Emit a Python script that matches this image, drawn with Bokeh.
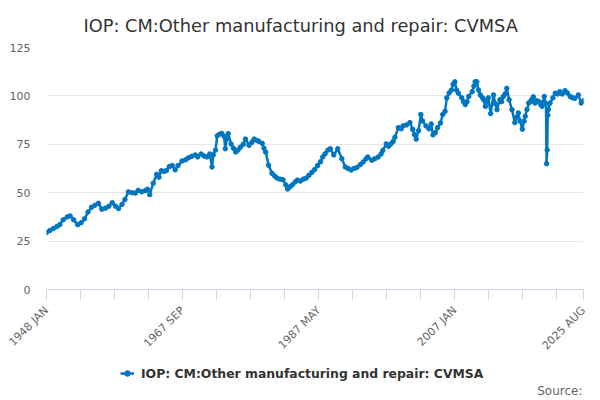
from bokeh.plotting import figure
from bokeh.layouts import column
from bokeh.models import (FixedTicker, Legend, LegendItem, Range1d, Label,
                          ColumnDataSource)
from bokeh.embed import file_html
from bokeh.resources import INLINE
import math

TITLE = "IOP: CM:Other manufacturing and repair: CVMSA"
SERIES = "IOP: CM:Other manufacturing and repair: CVMSA"
SOURCE = "Source:"

dates = [
    "1948-01", "1948-07", "1949-01", "1949-07", "1949-12", "1950-06", "1951-01", "1951-06",
    "1951-12", "1952-07", "1953-01", "1953-07", "1954-01", "1954-07", "1955-01", "1955-07",
    "1956-01", "1956-07", "1957-01", "1957-07", "1958-01", "1958-06", "1958-12", "1959-05",
    "1959-11", "1960-05", "1960-11", "1961-04", "1961-10", "1962-04", "1962-08", "1962-12",
    "1963-06", "1963-12", "1964-04", "1964-08", "1965-01", "1965-05", "1965-10", "1966-03",
    "1966-08", "1967-01", "1967-08", "1968-02", "1968-07", "1969-01", "1969-07", "1969-11",
    "1970-05", "1970-10", "1971-03", "1971-08", "1971-12", "1972-02", "1972-06", "1972-09",
    "1973-01", "1973-05", "1973-09", "1973-11", "1974-02", "1974-04", "1974-09", "1975-01",
    "1975-05", "1975-09", "1976-01", "1976-06", "1976-10", "1977-04", "1977-09", "1978-01",
    "1978-06", "1978-09", "1979-03", "1979-06", "1979-09", "1980-02", "1980-08", "1981-01",
    "1981-05", "1981-10", "1982-03", "1982-08", "1982-11", "1983-03", "1983-07", "1983-12",
    "1984-04", "1984-09", "1985-02", "1985-07", "1985-12", "1986-05", "1986-10", "1987-03",
    "1987-08", "1987-12", "1988-04", "1988-09", "1989-01", "1989-07", "1990-02", "1990-09",
    "1991-03", "1991-08", "1992-01", "1992-06", "1992-11", "1993-05", "1993-10", "1994-03",
    "1994-06", "1995-01", "1995-06", "1995-12", "1996-05", "1996-08", "1997-02", "1997-06",
    "1997-10", "1998-02", "1998-05", "1998-11", "1999-04", "1999-07", "2000-01", "2000-07",
    "2000-12", "2001-03", "2001-06", "2001-10", "2002-02", "2002-05", "2002-11", "2003-04",
    "2003-08", "2003-11", "2004-03", "2004-07", "2004-12", "2005-04", "2005-08", "2005-11",
    "2006-03", "2006-07", "2006-10", "2007-01", "2007-04", "2007-07", "2008-01", "2008-04",
    "2008-07", "2008-10", "2009-01", "2009-07", "2009-10", "2009-12", "2010-03", "2010-06",
    "2010-09", "2011-01", "2011-03", "2011-06", "2011-09", "2011-11", "2012-03", "2012-08",
    "2012-11", "2013-02", "2013-07", "2013-10", "2014-01", "2014-04", "2014-07", "2014-11",
    "2015-04", "2015-09", "2015-12", "2016-03", "2016-06", "2016-10", "2017-01", "2017-03",
    "2017-06", "2017-09", "2017-12", "2018-02", "2018-05", "2018-08", "2018-11", "2019-02",
    "2019-05", "2019-08", "2019-11", "2019-12", "2020-03", "2020-04", "2020-05", "2020-06",
    "2020-07", "2020-10", "2021-03", "2021-07", "2021-11", "2022-03", "2022-07", "2022-12",
    "2023-04", "2023-09", "2024-01", "2024-05", "2024-11", "2025-04", "2025-08",
]

values = [
    29.5, 30.5, 31.5, 32.5, 33.5, 36.0, 37.5, 38.0,
    36.0, 33.5, 34.5, 36.5, 40.0, 42.5, 43.5, 44.5,
    41.5, 42.0, 43.0, 44.8, 43.0, 41.8, 44.0, 46.5,
    50.4, 50.0, 49.8, 51.2, 50.5, 51.0, 51.8, 49.0,
    54.9, 59.5, 58.0, 61.3, 61.0, 61.5, 63.5, 64.0,
    61.8, 64.0, 66.4, 67.0, 68.0, 68.8, 69.5, 68.5,
    70.0, 69.0, 68.5, 70.0, 63.3, 69.5, 72.0, 79.4,
    80.2, 80.6, 79.0, 72.7, 78.0, 80.5, 75.2, 73.0,
    71.0, 72.0, 73.5, 75.0, 77.7, 74.5, 76.0, 77.7,
    77.0, 76.5, 75.5, 73.0, 71.0, 64.2, 60.0, 58.5,
    57.5, 57.0, 56.7, 54.0, 51.9, 53.0, 54.0, 55.5,
    56.5, 56.0, 57.0, 57.5, 59.0, 60.5, 62.0, 64.0,
    66.0, 68.5, 70.1, 72.0, 72.7, 69.5, 72.7, 67.6,
    63.3, 62.5, 61.7, 62.5, 63.0, 64.5, 65.9, 67.5,
    68.4, 66.8, 67.5, 68.4, 70.0, 71.8, 75.2, 74.0,
    75.2, 76.5, 78.6, 83.6, 83.0, 84.5, 85.0, 86.2,
    82.7, 80.0, 77.7, 82.0, 90.4, 87.0, 84.5, 83.0,
    85.5, 79.9, 81.0, 83.6, 86.0, 90.4, 92.0, 99.0,
    101.5, 103.0, 106.0, 107.3, 103.0, 101.4, 99.0, 97.0,
    95.5, 97.0, 99.7, 102.2, 105.0, 107.3, 107.3, 103.0,
    100.5, 99.0, 98.0, 94.6, 97.0, 99.0, 90.9, 100.5,
    96.0, 92.9, 98.0, 97.0, 99.7, 101.0, 103.9, 98.0,
    92.9, 86.2, 89.0, 91.2, 87.0, 82.8, 87.0, 89.5,
    93.0, 96.3, 97.0, 98.0, 99.5, 96.3, 97.5, 97.1,
    96.0, 94.6, 97.0, 99.7, 96.0, 65.0, 72.0, 90.0,
    93.0, 96.3, 99.0, 101.4, 101.0, 102.2, 101.0, 102.7,
    101.5, 99.7, 99.0, 98.8, 100.5, 96.3, 97.5,
]

y_ticks = [0, 25, 50, 75, 100, 125]
x_tick_labels = ["1948 JAN", "1967 SEP", "1987 MAY", "2007 JAN", "2025 AUG"]
x_tick_label_dates = ["1948-01", "1967-09", "1987-05", "2007-01", "2025-08"]


def month_index(d):
    y, m = d.split("-")
    return (int(y) - 1948) * 12 + int(m) - 1


xs = [month_index(d) for d in dates]
last = month_index("2025-08")
src = ColumnDataSource(dict(x=xs, y=values))

FONT = "DejaVu Sans"
COLOR = "#0076c0"
LEFT, RIGHT = 46, 17

# ---------------- main chart ----------------
p = figure(width=600, height=360, output_backend="svg", toolbar_location=None,
           x_range=Range1d(0, last), y_range=Range1d(0, 125),
           min_border_left=LEFT, min_border_right=RIGHT, min_border_top=45,
           min_border_bottom=68)
p.outline_line_color = None
p.background_fill_color = "white"
p.border_fill_color = "white"

ln = p.line("x", "y", source=src, line_color=COLOR, line_width=2.5)
sc = p.scatter("x", "y", source=src, size=4.5, fill_color=COLOR, line_color=COLOR)

p.title.text = TITLE
p.title.align = "left"
p.title.offset = 37
p.title.text_font = FONT
p.title.text_font_size = "17.8px"
p.title.text_font_style = "normal"
p.title.text_color = "#333333"
p.title.standoff = 24

major = list(range(0, last - 40, 59)) + [last]
p.xaxis.ticker = FixedTicker(ticks=major)
overrides = {t: "" for t in major}
for lab, d in zip(x_tick_labels, x_tick_label_dates):
    overrides[month_index(d)] = lab
p.xaxis.major_label_overrides = overrides
p.xaxis.major_label_orientation = math.pi / 4
p.xaxis.axis_line_color = "#ccd6eb"
p.xaxis.major_tick_line_color = "#ccd6eb"
p.xaxis.major_tick_out = 10
p.xaxis.major_tick_in = 0
p.xaxis.minor_tick_line_color = None
p.xaxis.major_label_text_font = FONT
p.xaxis.major_label_text_font_size = "11px"
p.xaxis.major_label_text_color = "#666666"
p.xaxis.major_label_standoff = 9
p.xgrid.grid_line_color = None

p.yaxis.ticker = FixedTicker(ticks=y_ticks)
p.yaxis.axis_line_color = None
p.yaxis.major_tick_line_color = None
p.yaxis.minor_tick_line_color = None
p.yaxis.major_label_text_font = FONT
p.yaxis.major_label_text_font_size = "11px"
p.yaxis.major_label_text_color = "#666666"
p.yaxis.major_label_standoff = 10
p.ygrid.grid_line_color = "#e6e6e6"

# ---------------- legend + source strip ----------------
# The series is drawn here too, but far outside this strip's ranges, so only
# its legend glyph shows.
q = figure(width=600, height=40, output_backend="svg", toolbar_location=None,
           x_range=Range1d(0, last), y_range=Range1d(-1040, -1000),
           x_axis_location=None, y_axis_location=None,
           min_border_left=LEFT, min_border_right=RIGHT, min_border_top=0,
           min_border_bottom=0)
q.outline_line_color = None
q.grid.visible = False
q.border_fill_color = "white"
q.background_fill_color = "white"

lg_line = q.line("x", "y", source=src, line_color=COLOR, line_width=2.5)
lg_dot = q.scatter("x", "y", source=src, size=4.5, fill_color=COLOR, line_color=COLOR)

legend = Legend(items=[LegendItem(label=SERIES, renderers=[lg_line, lg_dot])],
                location=(120 - LEFT, 17), orientation="horizontal",
                label_text_font=FONT, label_text_font_size="12.4px",
                label_text_font_style="bold", label_text_color="#333333",
                glyph_width=14, glyph_height=20, label_standoff=7,
                padding=0, margin=0, border_line_color=None,
                background_fill_alpha=0)
q.add_layout(legend, "center")

q.add_layout(Label(x=582 - LEFT, y=10, x_units="screen", y_units="screen", text=SOURCE,
                   text_align="right", text_baseline="middle", text_font=FONT,
                   text_font_size="12px", text_color="#666666"))

layout = column(p, q, spacing=0)
open("out.html", "w").write(file_html(layout, INLINE))
